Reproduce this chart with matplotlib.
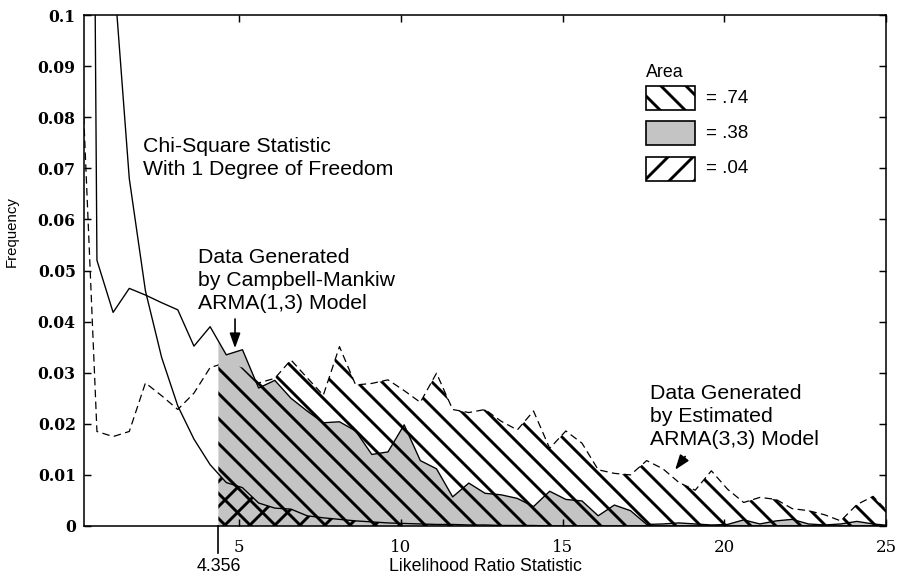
import numpy as np
import matplotlib
matplotlib.use("Agg")
import matplotlib.pyplot as plt
from matplotlib.patches import Rectangle

plt.rcParams['font.family'] = ['Liberation Sans', 'DejaVu Sans']
plt.rcParams['hatch.linewidth'] = 1.4

# likelihood ratio statistic (bin points, step 0.5)
lr = np.array([0.1, 0.6, 1.1, 1.6, 2.1, 2.6, 3.1, 3.6, 4.1, 4.6,
               5.1, 5.6, 6.1, 6.6, 7.1, 7.6, 8.1, 8.6, 9.1, 9.6,
               10.1, 10.6, 11.1, 11.6, 12.1, 12.6, 13.1, 13.6, 14.1, 14.6,
               15.1, 15.6, 16.1, 16.6, 17.1, 17.6, 18.1, 18.6, 19.1, 19.6,
               20.1, 20.6, 21.1, 21.6, 22.1, 22.6, 23.1, 23.6, 24.1, 24.6, 25.1])

chi_sq = np.array([0.60, 0.19, 0.110, 0.068, 0.046, 0.033, 0.0235, 0.0170, 0.0120, 0.0085,
                   0.0075, 0.0045, 0.0035, 0.0033, 0.0020, 0.0016, 0.0013, 0.0010, 0.0008, 0.0006,
                   0.0005, 0.0004, 0.0003, 0.0003, 0.0002, 0.0002, 0.0001, 0.0001, 0.0001, 0.0,
                   0.0, 0.0, 0.0, 0.0, 0.0, 0.0, 0.0, 0.0, 0.0, 0.0,
                   0.0, 0.0, 0.0, 0.0, 0.0, 0.0, 0.0, 0.0, 0.0, 0.0, 0.0])

campbell = np.array([0.50, 0.052, 0.0418, 0.0465, 0.0452, 0.0437, 0.0423, 0.0352, 0.0390, 0.0335,
                     0.0345, 0.0270, 0.0285, 0.0250, 0.0225, 0.0202, 0.0204, 0.0186, 0.0140, 0.0145,
                     0.0198, 0.0128, 0.0112, 0.0057, 0.0084, 0.0064, 0.0061, 0.0054, 0.0038, 0.0068,
                     0.0052, 0.0049, 0.0020, 0.0041, 0.0030, 0.0003, 0.0004, 0.0006, 0.0004, 0.0002,
                     0.0003, 0.0012, 0.0004, 0.0010, 0.0013, 0.0004, 0.0002, 0.0004, 0.0009, 0.0004, 0.0001])

estimated = np.array([0.094, 0.0185, 0.0175, 0.0185, 0.0280, 0.0255, 0.0228, 0.0260, 0.0310, 0.0320,
                      0.0310, 0.0280, 0.0289, 0.0325, 0.0290, 0.0256, 0.0351, 0.0276, 0.0279, 0.0286,
                      0.0265, 0.0242, 0.0299, 0.0228, 0.0222, 0.0228, 0.0205, 0.0188, 0.0225, 0.0152,
                      0.0186, 0.0162, 0.0110, 0.0103, 0.0100, 0.0128, 0.0112, 0.0085, 0.0070, 0.0108,
                      0.0072, 0.0046, 0.0056, 0.0052, 0.0034, 0.0030, 0.0022, 0.0010, 0.0042, 0.0058, 0.0025])

cutoff = 4.356
areas = ['.74', '.38', '.04']
yticks = [0, 0.01, 0.02, 0.03, 0.04, 0.05, 0.06, 0.07, 0.08, 0.09, 0.1]
yticklabels = ['0', '0.01', '0.02', '0.03', '0.04', '0.05', '0.06', '0.07', '0.08', '0.09', '0.1']
xticks = [5, 10, 15, 20, 25]

GRAY = '#c4c4c4'


def tail(y):
    # part of a series right of the cutoff, starting exactly at the cutoff
    keep = lr > cutoff
    xs = np.concatenate([[cutoff], lr[keep]])
    ys = np.concatenate([[np.interp(cutoff, lr, y)], y[keep]])
    return xs, ys


fig = plt.figure(figsize=(6, 580 / 150), dpi=150)
ax = fig.add_axes([84 / 900, 54 / 580, 802 / 900, 511 / 580])

x_c, y_c = tail(campbell)
ax.fill_between(x_c, 0, y_c, facecolor=GRAY, edgecolor='none', lw=0, zorder=1)
x_e, y_e = tail(estimated)
ax.fill_between(x_e, 0, y_e, facecolor='none', edgecolor='k', hatch='\\\\', lw=0, zorder=2)
x_q, y_q = tail(chi_sq)
ax.fill_between(x_q, 0, y_q, facecolor='none', edgecolor='k', hatch='//', lw=0, zorder=3)

ax.plot(lr, chi_sq, color='k', lw=0.65, zorder=4)
ax.plot(lr, campbell, color='k', lw=0.65, zorder=4)
# dashed curve sits under the grey area, so it vanishes where it runs inside it
ax.plot(lr, estimated, color='k', lw=0.6, dashes=(6, 3.5), zorder=0.9)

ax.set_xlim(0.2, 25)
ax.set_ylim(0, 0.1)
ax.set_yticks(yticks)
ax.set_yticklabels(yticklabels, family='DejaVu Serif', fontsize=7.5, weight='bold')
ax.set_xticks(xticks)
ax.set_xticklabels([str(t) for t in xticks], family='DejaVu Serif', fontsize=8)
ax.tick_params(direction='in', length=3.5, width=0.7, top=True, right=True)
ax.tick_params(axis='x', pad=6)
ax.tick_params(axis='y', pad=4)
for s in ax.spines.values():
    s.set_linewidth(0.75)

# cutoff mark under the axis
ax.plot([cutoff, cutoff], [0, -0.0053], color='k', lw=0.8, clip_on=False)
ax.text(cutoff, -0.008, '4.356', ha='center', va='center', fontsize=8.5)

ax.set_xlabel('Likelihood Ratio Statistic', fontsize=8.5)
ax.xaxis.set_label_coords(0.5, -0.062)
ax.set_ylabel('Frequency', fontsize=7.2)
ax.yaxis.set_label_coords(-0.0898, 0.577)
ax.yaxis.label.set_verticalalignment('center')

note = dict(ha='left', va='center', fontsize=10.2, linespacing=1.27)
ax.text(2.02, 0.0721, 'Chi-Square Statistic\nWith 1 Degree of Freedom', **note)
ax.text(3.71, 0.0481, 'Data Generated\nby Campbell-Mankiw\nARMA(1,3) Model', **note)
ax.text(17.71, 0.0215, 'Data Generated\nby Estimated\nARMA(3,3) Model', **note)

arrow = dict(arrowstyle='-|>,head_length=0.5,head_width=0.18', color='k', lw=0.8,
             shrinkA=0, shrinkB=0, mutation_scale=12)
ax.annotate('', xy=(4.87, 0.0348), xytext=(4.87, 0.0405), arrowprops=arrow)
ax.annotate('', xy=(18.48, 0.0110), xytext=(18.79, 0.0136), arrowprops=arrow)

# area key
ax.text(0.7004, 0.8865, 'Area', transform=ax.transAxes, ha='left', va='center', fontsize=8.5)
box_y = [0.814, 0.745, 0.676]
box_style = [dict(facecolor='white', hatch='\\\\'),
             dict(facecolor=GRAY),
             dict(facecolor='white', hatch='//')]
for yb, st, a in zip(box_y, box_style, areas):
    ax.add_patch(Rectangle((0.7004, yb), 0.0615, 0.047, transform=ax.transAxes,
                           edgecolor='k', lw=0.8, zorder=5, **st))
    ax.text(0.7756, yb + 0.0235, '= ' + a, transform=ax.transAxes,
            ha='left', va='center', fontsize=9)

fig.savefig('out.png', dpi=150)
